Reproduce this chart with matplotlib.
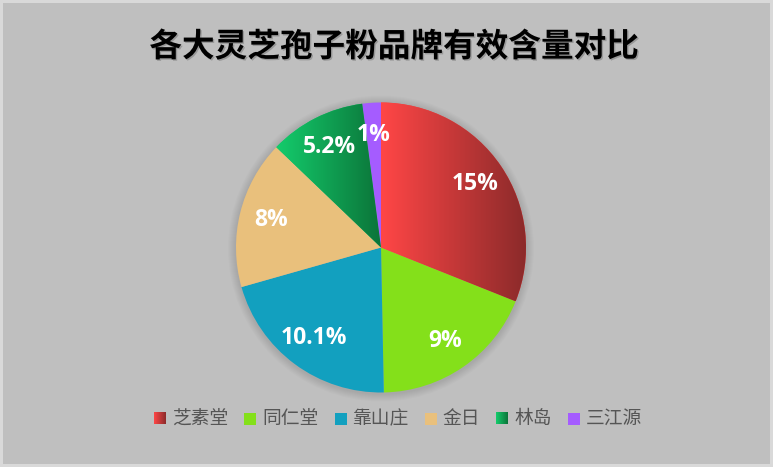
import numpy as np
import matplotlib
matplotlib.use('Agg')
import matplotlib.pyplot as plt
from matplotlib.patches import Rectangle, Circle
from matplotlib.colors import to_rgb
import matplotlib.patheffects as pe

# данные
brands = ['芝素堂', '同仁堂', '靠山庄', '金日', '林岛', '三江源']
values = [15, 9, 10.1, 8, 5.2, 1]
colors = ['#fa4545', '#84e01a', '#12a0bf', '#e9c07c', '#14c96b', '#a55cff']
# градиенты (слева -> направо) для некоторых секторов
gradients = {0: ('#ff4646', '#8a2a2a'), 4: ('#14cc6c', '#0b7439')}

title = '各大灵芝孢子粉品牌有效含量对比'

W, H = 773, 467
fig = plt.figure(figsize=(W / 100, H / 100), dpi=100, facecolor='#d9d9d9')
ax = fig.add_axes([0, 0, 1, 1])

cx, cy, R = 381, H - 247.5, 145

wedges, _ = ax.pie(values, colors=colors, startangle=90, counterclock=False,
                   center=(cx, cy), radius=R,
                   wedgeprops=dict(linewidth=0, zorder=3))

ax.set_xlim(0, W)
ax.set_ylim(0, H)
ax.set_aspect('equal')
ax.axis('off')

# фон
ax.add_patch(Rectangle((3, 3), W - 6, H - 6, facecolor='#bfbfbf',
                       edgecolor='none', zorder=0))

# мягкая тень вокруг круга
for k in range(8):
    ax.add_patch(Circle((cx, cy - 1), R + 8 - k, facecolor='#000000',
                        edgecolor='none', alpha=0.012, zorder=1))


def grad_img(c1, c2, n=256):
    a = np.array(to_rgb(c1))
    b = np.array(to_rgb(c2))
    t = np.linspace(0, 1, n)[None, :, None]
    return a + (b - a) * t


# заливка градиентом
for i, (c1, c2) in gradients.items():
    w = wedges[i]
    v = w.get_path().vertices
    x0, x1 = v[:, 0].min(), v[:, 0].max()
    y0, y1 = v[:, 1].min(), v[:, 1].max()
    im = ax.imshow(grad_img(c1, c2), extent=(x0, x1, y0, y1), aspect='auto',
                   zorder=4, interpolation='bilinear')
    im.set_clip_path(w)

ax.set_xlim(0, W)
ax.set_ylim(0, H)

# подписи значений
for w, v in zip(wedges, values):
    ang = np.deg2rad((w.theta1 + w.theta2) / 2)
    ax.text(cx + 0.78 * R * np.cos(ang), cy + 0.78 * R * np.sin(ang),
            f'{v:g}%', ha='center', va='center', color='white',
            fontsize=16.5, fontweight='bold',
            family=['Open Sans', 'Noto Sans CJK SC'], zorder=6)

# заголовок
ax.text(394, H - 47, title, ha='center', va='center', fontsize=23.5,
        fontweight='bold', color='black', family=['Noto Sans CJK SC'],
        path_effects=[pe.withSimplePatchShadow(offset=(1, -1), alpha=0.2,
                                                shadow_rgbFace='#000000')])

# легенда
renderer = fig.canvas.get_renderer()
x = 154
ly = H - 418.5
sq = 12
for i, (name, c) in enumerate(zip(brands, colors)):
    if i in gradients:
        ax.imshow(grad_img(*gradients[i]), extent=(x, x + sq, ly - sq / 2, ly + sq / 2),
                  aspect='auto', zorder=5, interpolation='bilinear')
    else:
        ax.add_patch(Rectangle((x, ly - sq / 2), sq, sq, facecolor=c,
                               edgecolor='none', zorder=5))
    t = ax.text(x + sq + 6, ly, name, ha='left', va='center', fontsize=13.5,
                color='#555555', family=['Noto Sans CJK SC'], zorder=5)
    tw = t.get_window_extent(renderer).width
    x = x + sq + 6 + tw + 16

ax.set_xlim(0, W)
ax.set_ylim(0, H)
ax.set_aspect('equal')

fig.savefig('out.png', dpi=100, facecolor=fig.get_facecolor())
